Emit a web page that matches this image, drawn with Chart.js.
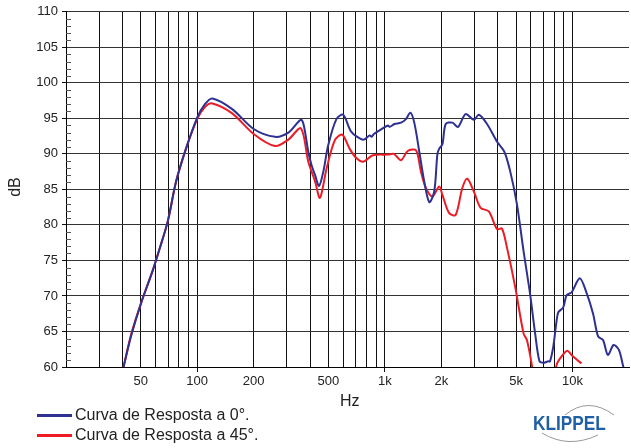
<!DOCTYPE html>
<html>
<head>
<meta charset="utf-8">
<script src="https://cdn.jsdelivr.net/npm/chart.js@4/dist/chart.umd.min.js"></script>
<style>
body{margin:0;background:#fff;font-family:"Liberation Sans",Arial,sans-serif;}
#wrap{position:relative;width:631px;height:448px;overflow:hidden;}
#c{position:absolute;left:0;top:0;}
.lbl{position:absolute;color:#222;white-space:nowrap;}
.leg{position:absolute;left:37px;font-size:16px;color:#222;white-space:nowrap;}
.leg i{display:inline-block;width:35px;height:3px;vertical-align:middle;margin-right:3px;}
#logo{position:absolute;left:530px;top:402px;width:90px;height:46px;}
#logo span{position:absolute;left:3px;top:9px;font-weight:bold;font-size:21px;color:#1f5fa6;transform:scaleX(0.82);transform-origin:left top;}
</style>
</head>
<body>
<div id="wrap">
<canvas id="c" width="631" height="448"></canvas>
<div class="lbl" style="left:340px;top:392px;font-size:16px;">Hz</div>
<div class="lbl" style="left:2px;top:178px;font-size:16px;transform:rotate(-90deg);transform-origin:center;width:26px;text-align:center;">dB</div>
<div class="leg" style="top:406px;"><i style="background:#2e3192"></i>Curva de Resposta a 0°.</div>
<div class="leg" style="top:426px;"><i style="background:#ed1c24"></i>Curva de Resposta a 45°.</div>
<div id="logo">
<svg width="90" height="46" style="position:absolute;left:0;top:0">
<path d="M35 13 Q58 -6 84 13" stroke="#999" fill="none" stroke-width="1"/>
<path d="M12 31 Q38 47 68 33" stroke="#999" fill="none" stroke-width="1"/>
</svg>
<span>KLIPPEL</span>
</div>
</div>
<script>
// frequency response 0 deg
let freq0 = [40.5,44.6,50.4,58,63,69.7,77.2,87.1,100,110,120.5,153.7,200,260,306,357,370,391,407,425,446,470,499,552,600,663,766,830,850,875,950,1038,1060,1125,1219,1296,1367,1435,1526,1622,1725,1833,1906,1947,2028,2110,2290,2456,2693,2981,3169,3505,3963,4333,4660,5058,5486,5948,6324,6670,6998,7430,7587,7902,8225,8400,8924,9298,9880,10933,11857,12870,13690,14540,15440,16550,17670,18540,19500];
let db0 = [60,64.5,69.1,73.6,76.6,80.5,86.1,90.7,95.1,97.0,97.8,96.3,93.5,92.4,93.0,94.8,94.0,90.3,88.4,87.0,85.5,87.5,91.2,94.9,95.5,93.1,92.0,92.6,92.4,92.8,93.4,94.0,93.8,94.2,94.4,94.9,95.8,94.4,90.3,86.1,83.2,84.7,90.0,90.7,91.4,94.2,94.4,93.8,95.6,94.8,95.5,94.2,91.7,90.3,87.5,82.9,76.3,70.2,64.7,60.8,60.6,60.8,60.8,62.9,66.5,67.7,68.4,70.1,70.5,72.5,70.5,67.5,64.3,63.8,61.7,63.1,62.4,60.3,58];
// 45 deg
let freq45 = [40.5,44.6,50.4,58,63,69.7,77.2,87.1,100,110,120.5,153.7,200,260,306,357,391,425,451,489,541,592,650,700,766,864,1038,1117,1219,1324,1466,1557,1655,1795,1947,2028,2197,2384,2587,2748,2981,3238,3581,3963,4207,4475,4955,5486,5715,6068,6300,7000,8000,8225,8750,9375,9880,10490,11160];
let db45 = [60,64.7,69.1,73.6,76.6,80.5,86.1,90.7,94.9,96.6,97.1,95.7,92.8,91.1,92.0,93.6,88.9,86.1,83.8,87.9,91.9,92.7,90.7,89.5,88.9,89.8,89.9,90.0,89.1,90.4,90.5,87.5,85.2,84.0,85.4,84.2,81.7,81.4,85.2,86.5,84.7,82.4,81.9,79.4,79.5,76.8,71.2,64.7,63.8,60.3,57,null,57,60.3,61.5,62.3,61.7,61.1,60.5];

let gridFreqs = [20,30,40,50,60,70,80,90,100,200,300,400,500,600,700,800,900,1000,2000,3000,4000,5000,6000,7000,8000,9000,10000,20000];
let labelFreqs = [50,100,200,500,1000,2000,5000,10000];
let labelText = ['50','100','200','500','1k','2k','5k','10k'];
let decadeFreqs = [100,1000,10000];

const pts = (fx, fy) => fx.map((f, i) => ({x: f, y: fy[i]}));

const minorTicks = {
    id: 'minorTicks',
    afterDraw(chart) {
        let ctx = chart.ctx, y = chart.scales.y, a = chart.chartArea;
        ctx.save();
        ctx.strokeStyle = '#555';
        ctx.lineWidth = 1;
        for (let v = 61; v < 110; v++) {
            if (v % 5 == 0) continue;
            let py = Math.round(y.getPixelForValue(v)) + 0.5;
            ctx.beginPath();
            ctx.moveTo(a.left, py);
            ctx.lineTo(a.left + 5, py);
            ctx.stroke();
        }
        ctx.restore();
    }
};

new Chart(document.getElementById('c'), {
    type: 'line',
    data: {
        datasets: [
            {label: 'Curva de Resposta a 0°.', data: pts(freq0, db0), borderColor: '#2e3192', borderWidth: 2, pointRadius: 0, tension: 0.3, spanGaps: false},
            {label: 'Curva de Resposta a 45°.', data: pts(freq45, db45), borderColor: '#ed1c24', borderWidth: 2, pointRadius: 0, tension: 0.3, spanGaps: false}
        ]
    },
    options: {
        responsive: false,
        animation: false,
        layout: {padding: {top: 8, right: 1, left: 0, bottom: 0}},
        plugins: {legend: {display: false}, tooltip: {enabled: false}},
        scales: {
            x: {
                type: 'logarithmic',
                min: 20,
                max: 20000,
                afterBuildTicks: s => { s.ticks = gridFreqs.map(v => ({value: v})); },
                afterFit: s => { s.height = 81; },
                border: {color: '#000', width: 1},
                grid: {
                    color: c => (c.tick && (c.tick.value == 20 || c.tick.value == 20000)) ? 'rgba(0,0,0,0)' : '#111',
                    tickColor: c => (c.tick && decadeFreqs.includes(c.tick.value)) ? '#111' : 'rgba(0,0,0,0)',
                    tickLength: 5,
                    lineWidth: 1
                },
                ticks: {
                    autoSkip: false,
                    maxRotation: 0,
                    padding: 2,
                    color: '#222',
                    font: {family: 'Liberation Sans', size: 13},
                    callback: v => { let i = labelFreqs.indexOf(v); return i < 0 ? '' : labelText[i]; }
                }
            },
            y: {
                min: 60,
                max: 110,
                afterFit: s => { s.width = 66; },
                border: {color: '#000', width: 1},
                grid: {color: '#333', tickColor: '#111', tickLength: 4, lineWidth: 1},
                ticks: {stepSize: 5, padding: 4, color: '#222', font: {family: 'Liberation Sans', size: 13}}
            }
        }
    },
    plugins: [minorTicks]
});
</script>
</body>
</html>
